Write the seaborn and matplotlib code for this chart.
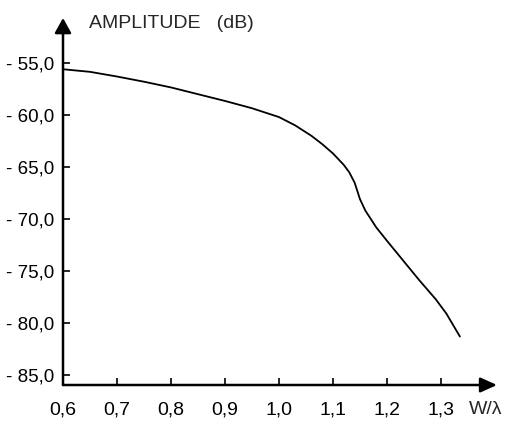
import matplotlib
matplotlib.use("Agg")
import matplotlib.pyplot as plt
import seaborn as sns
import pandas as pd

# Normalised width W/lambda and amplitude (dB)
w_lambda = [0.60, 0.65, 0.70, 0.75, 0.80, 0.85, 0.90, 0.95, 1.00, 1.03,
            1.06, 1.08, 1.10, 1.12, 1.13, 1.14, 1.145, 1.15, 1.16, 1.18,
            1.20, 1.23, 1.26, 1.29, 1.31, 1.335]
amplitude_db = [-55.6, -55.85, -56.3, -56.8, -57.35, -58.0, -58.65, -59.35,
                -60.2, -61.0, -62.0, -62.8, -63.7, -64.8, -65.5, -66.5,
                -67.3, -68.1, -69.2, -70.8, -72.1, -74.0, -75.9, -77.7,
                -79.1, -81.3]

x_ticks = [0.6, 0.7, 0.8, 0.9, 1.0, 1.1, 1.2, 1.3]
y_ticks = [-55.0, -60.0, -65.0, -70.0, -75.0, -80.0, -85.0]

sns.set_style("white")
plt.rcParams["font.family"] = ["Liberation Sans", "DejaVu Sans"]

fig = plt.figure(figsize=(5.12, 4.23), dpi=100)
ax = fig.add_axes([63 / 512, (423 - 385) / 423, (497 - 63) / 512, (385 - 18) / 423])

df = pd.DataFrame({"w": w_lambda, "amp": amplitude_db})
sns.lineplot(data=df, x="w", y="amp", ax=ax, color="black", linewidth=1.3,
             sort=False, estimator=None)

ax.set_xlim(0.6, 0.6 + (497 - 63) / 540)
ax.set_ylim(-55 - (385 - 63) / 10.4, -55 + (63 - 18) / 10.4)

for s in ax.spines.values():
    s.set_visible(False)

# Axes drawn as arrows
ax.annotate("", xy=(1.0, 0), xytext=(0, 0), xycoords="axes fraction",
            arrowprops=dict(arrowstyle="-|>,head_length=1.0,head_width=0.45",
                            color="black", lw=1.8, shrinkA=0, shrinkB=0))
ax.annotate("", xy=(0, 1.0), xytext=(0, 0), xycoords="axes fraction",
            arrowprops=dict(arrowstyle="-|>,head_length=0.9,head_width=0.5",
                            color="black", lw=1.8, shrinkA=0, shrinkB=0))

ax.set_xticks(x_ticks)
ax.set_xticklabels([f"{v:.1f}".replace(".", ",") for v in x_ticks])
ax.set_yticks(y_ticks)
ax.set_yticklabels([f"- {abs(v):.1f}".replace(".", ",") for v in y_ticks])

ax.tick_params(axis="both", direction="in", length=5, width=1.2, colors="black",
               left=True, bottom=True)
ax.tick_params(axis="x", pad=12, labelsize=14)
ax.tick_params(axis="y", pad=6.5, labelsize=13.5)
ax.set_xlabel("")
ax.set_ylabel("")

fig.text(89 / 512, 1 - 24 / 423, "AMPLITUDE   (dB)", fontsize=14,
         ha="left", va="center")
fig.text(469 / 512, 1 - 409 / 423, "W/λ", fontsize=14, ha="left", va="center")

fig.savefig("out.png", dpi=100)
